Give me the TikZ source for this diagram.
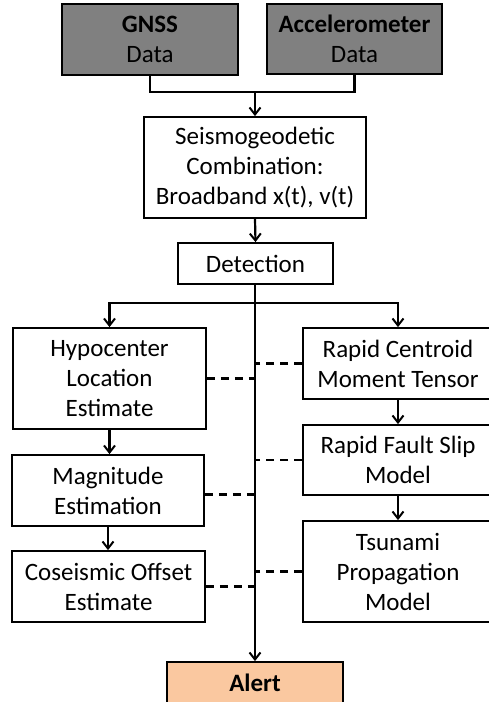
\documentclass[tikz,border=0pt]{standalone}
\usepackage{fontspec}
\setmainfont{Carlito}
\usepackage{xcolor}
\usepackage{tikz}
\usetikzlibrary{arrows.meta}
\usetikzlibrary{shapes,arrows,positioning}
\tikzset{>={Straight Barb[length=7pt,width=11pt,line width=2pt]}}

\definecolor{datagray}{RGB}{128,128,128}
\definecolor{alertorange}{RGB}{250,200,160}

\tikzset{
    stage/.style={
        draw,
        line width=1.8pt,
        align=center,
        inner sep=0pt,
        font=\fontsize{25}{30}\selectfont,
    },
    link/.style={line width=2.2pt},
    hint/.style={line width=2.2pt, dash pattern=on 8pt off 6pt},
}

\begin{document}
\begin{tikzpicture}[x=1pt, y=-1pt]
        \useasboundingbox (0,0) rectangle (488,702);

        % input data
        \node[stage, fill=datagray, minimum width=176pt, minimum height=71pt]
            (gnss) at (150,39.5) {\textbf{GNSS}\\Data};
        \node[stage, fill=datagray, minimum width=175pt, minimum height=70pt]
            (accel) at (354.5,39) {\textbf{Accelerometer}\\Data};

        % combination and detection
        \node[stage, minimum width=222pt, minimum height=101pt]
            (seismo) at (255,167.5) {Seismogeodetic\\Combination:\\Broadband x(t), v(t)};
        \node[stage, minimum width=155pt, minimum height=41pt]
            (detect) at (255.5,263.5) {Detection};

        % left column
        \node[stage, minimum width=193pt, minimum height=101pt]
            (hypo) at (109.5,378.5) {Hypocenter\\Location\\Estimate};
        \node[stage, minimum width=192pt, minimum height=71pt]
            (magn) at (108,490.5) {Magnitude\\Estimation};
        \node[stage, minimum width=193pt, minimum height=71pt]
            (coseis) at (108.5,586.5) {Coseismic Offset\\Estimate};

        % right column
        \node[stage, minimum width=190pt, minimum height=71pt]
            (cmt) at (398,363.5) {Rapid Centroid\\Moment Tensor};
        \node[stage, minimum width=190pt, minimum height=70pt]
            (slip) at (398,460) {Rapid Fault Slip\\Model};
        \node[stage, minimum width=190pt, minimum height=101pt]
            (tsunami) at (398,571.5) {Tsunami\\Propagation\\Model};

        % alert
        \node[stage, fill=alertorange, minimum width=176pt, minimum height=42pt]
            (alert) at (255,683) {\textbf{Alert}};

        \coordinate (join) at (255,92);
        \coordinate (split) at (255,303);

        % arrows
        \draw[link] (gnss.south) |- (join) -| (accel.south);
        \draw[link, ->] (join) -- (seismo.north);
        \draw[link, ->] (seismo.south) -- (detect.south |- detect.north);
        \draw[link, ->] (detect.south -| join) -- (alert.north);
        \draw[link, ->] (split) -| (hypo.north);
        \draw[link, ->] (split) -| (cmt.north);
        \draw[link, ->] (hypo.south) -- (hypo.south |- magn.north);
        \draw[link, ->] (magn.south) -- (magn.south |- coseis.north);
        \draw[link, ->] (cmt.south) -- (slip.north);
        \draw[link, ->] (slip.south) -- (tsunami.north);

        % dashed ties to the trunk
        \draw[hint] (hypo.east) -- (hypo.east -| join);
        \draw[hint] ([yshift=-4pt]magn.east) -- ([yshift=-4pt]magn.east -| join);
        \draw[hint] (coseis.east) -- (coseis.east -| join);
        \draw[hint] (cmt.west) -- (cmt.west -| join);
        \draw[hint] (slip.west) -- (slip.west -| join);
        \draw[hint] (tsunami.west) -- (tsunami.west -| join);
    \end{tikzpicture}
\end{document}
